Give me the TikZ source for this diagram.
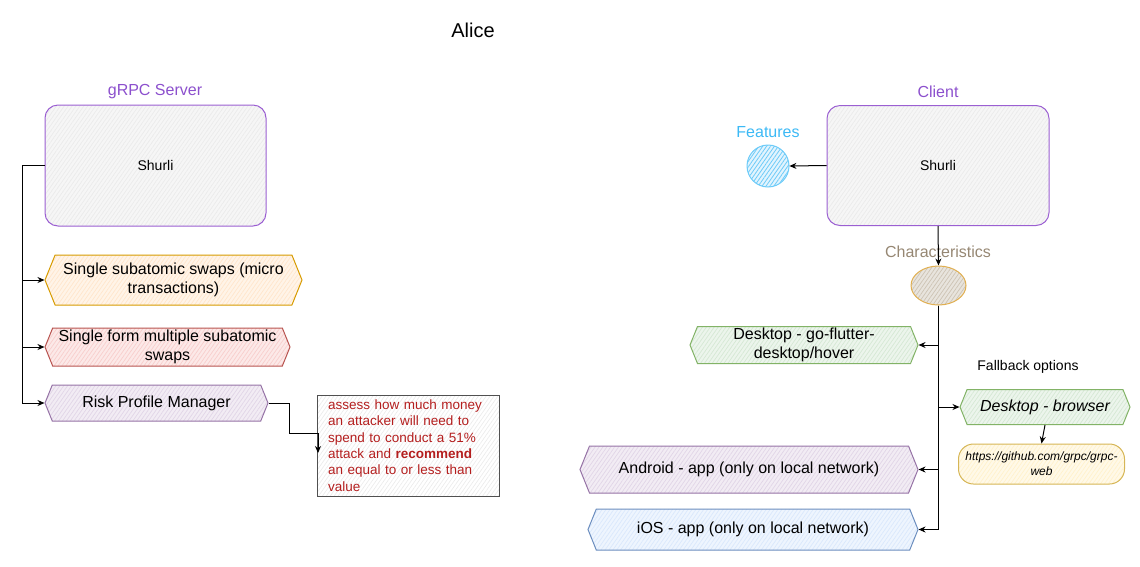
\documentclass[tikz,border=0pt]{standalone}
\usepackage{fontspec}
\setmainfont{Liberation Sans}
\usetikzlibrary{shapes.symbols,shapes.geometric,patterns.meta,arrows.meta}
\definecolor{ttlpurple}{RGB}{140,80,205}
\definecolor{boxpurple}{RGB}{155,95,210}
\definecolor{grayfill}{RGB}{235,235,235}
\definecolor{orfill}{HTML}{FFE6CC}\definecolor{orline}{HTML}{D79B00}
\definecolor{rdfill}{HTML}{F8CECC}\definecolor{rdline}{HTML}{B85450}
\definecolor{pufill}{HTML}{E1D5E7}\definecolor{puline}{HTML}{9673A6}
\definecolor{gnfill}{HTML}{D5E8D4}\definecolor{gnline}{HTML}{82B366}
\definecolor{blfill}{HTML}{DAE8FC}\definecolor{blline}{HTML}{6C8EBF}
\definecolor{ylfill}{HTML}{FFF2CC}\definecolor{ylline}{HTML}{D6B656}
\definecolor{ftblue}{RGB}{60,185,245}
\definecolor{chtxt}{RGB}{150,135,115}
\definecolor{chfill}{RGB}{205,195,180}
\definecolor{chline}{RGB}{225,175,80}
\definecolor{notered}{RGB}{180,30,30}
\definecolor{notegray}{RGB}{80,80,80}
\tikzset{
  hatch/.style 2 args={draw=#2, line width=1pt,
    preaction={fill=#1!45!white},
    pattern={Lines[angle=55,distance=3.2pt,line width=0.7pt]}, pattern color=#1},
  sbox/.style={rectangle, rounded corners=13pt, hatch={grayfill}{boxpurple},
    font=\fontsize{14}{16}\selectfont, inner sep=0pt},
  hexa/.style={signal, signal to=west and east, signal pointer angle=136,
    inner sep=0pt, font=\fontsize{16}{18.5}\selectfont, align=center},
  ttl/.style={font=\fontsize{16}{18}\selectfont, inner sep=0pt},
  arr/.style={draw=black, line width=1pt, -{Stealth[length=7pt,width=6pt]}},
  ln/.style={draw=black, line width=1pt}
}
\begin{document}
\begin{tikzpicture}[x=1pt,y=-1pt]
\useasboundingbox (0,0) rectangle (1140,566);
\node[font=\fontsize{20}{22}\selectfont, inner sep=0pt] (alice) at (473,30) {Alice};
% ---------- server side
\node[ttl, text=ttlpurple] (srvt) at (155,92) {gRPC Server};
\node[sbox, minimum width=221pt, minimum height=121pt] (srv) at (155.5,165.5) {Shurli};
\node[hexa, hatch={orfill}{orline}, minimum width=257pt, minimum height=50pt] (h1) at (173.5,280) {Single subatomic swaps (micro\\transactions)};
\node[hexa, hatch={rdfill}{rdline}, minimum width=245pt, minimum height=38pt] (h2) at (167.5,347) {Single form multiple subatomic\\swaps};
\node[hexa, hatch={pufill}{puline}, minimum width=223pt, minimum height=36pt] (h3) at (156.5,403) {Risk Profile Manager};
\node[rectangle, draw=notegray, line width=1pt, preaction={fill=white}, pattern={Lines[angle=55,distance=3.2pt,line width=0.6pt]}, pattern color=grayfill, minimum width=180pt, minimum height=101pt, text width=160pt, align=left, inner xsep=11pt, inner ysep=0pt, text=notered, font=\fontsize{13.5}{16.4}\selectfont] (note) at (408,445.5) {assess how much money\\an attacker will need to\\spend to conduct a 51\%\\attack and \textbf{recommend}\\an equal to or less than\\value};
\coordinate (lt) at (22,165.5);
\draw[ln] (srv.west) -- (lt);
\draw[arr] (lt) |- (h1.west);
\draw[arr] (lt) |- (h2.west);
\draw[arr] (lt) |- (h3.west);
\coordinate (r1) at (289,403);
\coordinate (r2) at (289,433);
\coordinate (r3) at (318,433);
\coordinate (r4) at (318,453);
\draw[arr] (h3.east) -- (r1) -- (r2) -- (r3) -- (r4);
% ---------- client side
\node[ttl, text=ttlpurple] (clt) at (938,92) {Client};
\node[sbox, minimum width=222pt, minimum height=120pt] (cli) at (938,165.5) {Shurli};
\node[ttl, text=ftblue] (ftt) at (768,132) {Features};
\node[circle, draw=ftblue!75!white, line width=1pt, preaction={fill=ftblue!15!white}, pattern={Lines[angle=55,distance=3.2pt,line width=0.8pt]}, pattern color=ftblue!75!white, minimum size=42pt, inner sep=0pt] (ft) at (768,166) {};
\node[ttl, text=chtxt] (cht) at (938,252) {Characteristics};
\node[ellipse, hatch={chfill}{chline}, minimum width=55pt, minimum height=39pt, inner sep=0pt] (ch) at (938.5,285.5) {};
\draw[arr] (cli.west) -- (ft.east);
\draw[arr] (cli.south) -- (ch.north);
\node[hexa, hatch={gnfill}{gnline}, minimum width=228pt, minimum height=37pt] (dk) at (804,345) {Desktop - go-flutter-\\desktop/hover};
\node[font=\fontsize{14}{16}\selectfont, inner sep=0pt] (fb) at (1028,367) {Fallback options};
\node[hexa, hatch={gnfill}{gnline}, minimum width=170pt, minimum height=35pt, font=\fontsize{16}{18}\selectfont\itshape] (br) at (1045,407) {Desktop - browser};
\node[rectangle, rounded corners=15pt, hatch={ylfill}{ylline}, minimum width=166pt, minimum height=40pt, inner sep=0pt, align=center, font=\fontsize{12}{15}\selectfont\itshape] (gh) at (1041.5,464) {https://github.com/grpc/grpc-\\web};
\node[hexa, hatch={pufill}{puline}, minimum width=338pt, minimum height=47pt] (an) at (749,469.5) {Android - app (only on local network)};
\node[hexa, hatch={blfill}{blline}, minimum width=330pt, minimum height=41pt] (io) at (753,529.5) {iOS - app (only on local network)};
\draw[arr] (ch.south) |- (dk.east);
\draw[arr] (ch.south) |- (br.west);
\draw[arr] (ch.south) |- (an.east);
\draw[arr] (ch.south) |- (io.east);
\draw[arr] (br.south) -- (gh.north);
\end{tikzpicture}
\end{document}
